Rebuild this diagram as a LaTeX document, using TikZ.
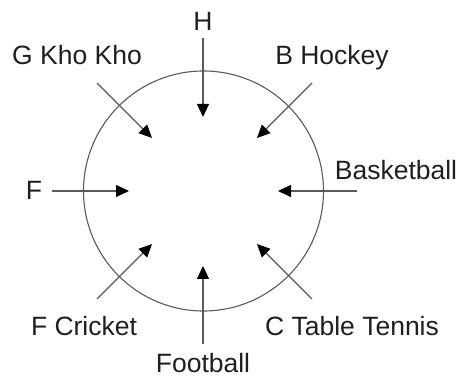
\documentclass[tikz,border=0pt]{standalone}
\usepackage{fontspec}
\setmainfont{Liberation Sans}
\usetikzlibrary{arrows.meta}
\usetikzlibrary{positioning}

\tikzset{
  sport/.style = {font=\fontsize{26.5}{31}\selectfont, text=black!88, inner sep=0pt, anchor=base},
  push/.style  = {draw=black!65, line width=1.1pt,
                  -{Triangle[length=13pt,width=12pt,color=black]}}
}

\begin{document}
\begin{tikzpicture}[x=1pt,y=-1pt]
      \useasboundingbox (0,0) rectangle (464,379);
      \coordinate (O) at (203.5,191);
      \draw[black!65, line width=1.1pt] (O) circle[radius=120];

      \node[sport] (H)  at (203,31)  {H};
      \node[sport] (G)  at (77,65)   {G Kho Kho};
      \node[sport] (B)  at (332,65)  {B Hockey};
      \node[sport] (Bb) at (396,180) {Basketball};
      \node[sport] (F)  at (34,200)  {F};
      \node[sport] (Fc) at (84,336)  {F Cricket};
      \node[sport] (Ct) at (352,336) {C Table Tennis};
      \node[sport] (Fb) at (203,373) {Football};

      \coordinate (H1)  at (203,38);   \coordinate (H2)  at (203,117);
      \coordinate (G1)  at (97,83);    \coordinate (G2)  at (152,138);
      \coordinate (B1)  at (312,83);   \coordinate (B2)  at (257,138);
      \coordinate (Bb1) at (357,191);  \coordinate (Bb2) at (278,191);
      \coordinate (F1)  at (52,191);   \coordinate (F2)  at (129,191);
      \coordinate (Fc1) at (97,299);   \coordinate (Fc2) at (152,244);
      \coordinate (Ct1) at (312,299);  \coordinate (Ct2) at (257,244);
      \coordinate (Fb1) at (203,344);  \coordinate (Fb2) at (203,266);

      \draw[push] (H1) -- (H2);
      \draw[push] (G1) -- (G2);
      \draw[push] (B1) -- (B2);
      \draw[push] (Bb1) -- (Bb2);
      \draw[push] (F1) -- (F2);
      \draw[push] (Fc1) -- (Fc2);
      \draw[push] (Ct1) -- (Ct2);
      \draw[push] (Fb1) -- (Fb2);
\end{tikzpicture}
\end{document}
